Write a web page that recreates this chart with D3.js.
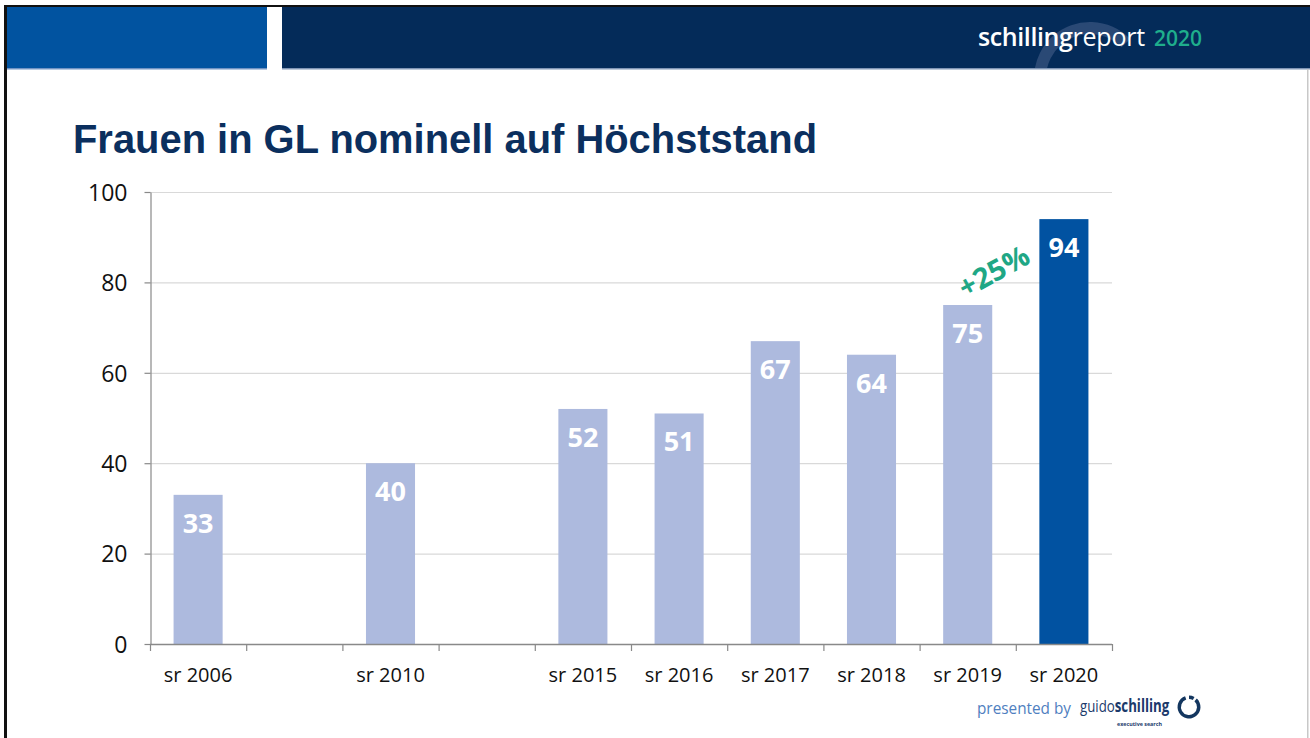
<!DOCTYPE html>
<html>
<head>
<meta charset="utf-8">
<script src="https://cdn.jsdelivr.net/npm/d3@7"></script>
<style>
  html, body { margin: 0; padding: 0; background: #ffffff; }
  svg { display: block; }
</style>
</head>
<body>
<svg id="chart" width="1310" height="738"></svg>
<script>
// ---- data ----
const categories = ["sr 2006", "", "sr 2010", "", "sr 2015", "sr 2016", "sr 2017", "sr 2018", "sr 2019", "sr 2020"];
const values = [33, null, 40, null, 52, 51, 67, 64, 75, 94];
const highlightCategory = "sr 2020";
const yTicks = [0, 20, 40, 60, 80, 100];
const titleText = "Frauen in GL nominell auf Höchststand";
const annotationText = "+25%";

const svg = d3.select("#chart");
const W = 1310, H = 738;

// ---- page frame & header ----
svg.append("rect").attr("x", 0).attr("y", 0).attr("width", W).attr("height", H).attr("fill", "#ffffff");
svg.append("rect").attr("x", 7).attr("y", 7).attr("width", 260).attr("height", 61).attr("fill", "#0153a0");
svg.append("rect").attr("x", 282).attr("y", 7).attr("width", W - 282).attr("height", 61).attr("fill", "#042b59");
svg.append("rect").attr("x", 7).attr("y", 68).attr("width", 260).attr("height", 1.5).attr("fill", "#6f93c4");
svg.append("rect").attr("x", 282).attr("y", 68).attr("width", W - 282).attr("height", 1.5).attr("fill", "#7f95b5");
// watermark arc
const defs = svg.append("defs");
defs.append("clipPath").attr("id", "hdrclip").append("rect").attr("x", 282).attr("y", 7).attr("width", W - 282).attr("height", 61);
svg.append("g").attr("clip-path", "url(#hdrclip)")
  .append("path")
  .attr("transform", "translate(1090,78)")
  .attr("d", d3.arc()({innerRadius: 44, outerRadius: 56, startAngle: -2.25, endAngle: 0.8}))
  .attr("fill", "#2a4975");
// black border lines
svg.append("rect").attr("x", 4).attr("y", 5).attr("width", W - 4).attr("height", 2).attr("fill", "#111");
svg.append("rect").attr("x", 4).attr("y", 5).attr("width", 3).attr("height", H - 5).attr("fill", "#111");
svg.append("rect").attr("x", 1307).attr("y", 69).attr("width", 1.5).attr("height", H - 69).attr("fill", "#c8c8c8");

// header brand text
const brand = svg.append("text").attr("x", 978).attr("y", 46)
  .attr("font-family", "'Open Sans', sans-serif").attr("fill", "#ffffff");
brand.append("tspan").attr("font-size", 25).attr("font-weight", 600).attr("letter-spacing", -0.4).text("schilling");
brand.append("tspan").attr("font-size", 25).attr("font-weight", 400).attr("letter-spacing", -0.2).text("report");
brand.append("tspan").attr("font-size", 21).attr("font-weight", 600).attr("fill", "#1fae8c").attr("dx", 9).text("2020");

// ---- title ----
svg.append("text").attr("x", 73).attr("y", 153)
  .attr("font-family", "'Liberation Sans', Arial, sans-serif").attr("font-weight", 700)
  .attr("font-size", 40).attr("fill", "#0b2f5e")
  .attr("textLength", 744).attr("lengthAdjust", "spacingAndGlyphs")
  .text(titleText);

// ---- scales ----
const x0 = 150, x1 = 1112, yTop = 192, yBot = 644;
const x = d3.scaleBand().domain(d3.range(categories.length)).range([x0, x1])
  .paddingInner(0.49).paddingOuter(0.245);
const y = d3.scaleLinear().domain([0, 100]).range([yBot, yTop]);

// gridlines
svg.append("g").selectAll("line").data(yTicks.filter(d => d > 0)).join("line")
  .attr("x1", x0).attr("x2", x1).attr("y1", d => y(d) + 0.5).attr("y2", d => y(d) + 0.5)
  .attr("stroke", "#d9d9d9").attr("stroke-width", 1.2);

// bars
const data = categories.map((c, i) => ({i, c, v: values[i]})).filter(d => d.v != null);
svg.append("g").selectAll("rect").data(data).join("rect")
  .attr("x", d => x(d.i)).attr("width", x.bandwidth())
  .attr("y", d => y(d.v)).attr("height", d => y(0) - y(d.v))
  .attr("fill", d => d.c === highlightCategory ? "#0152a1" : "#adbade");

// value labels
svg.append("g").selectAll("text").data(data).join("text")
  .attr("x", d => x(d.i) + x.bandwidth() / 2).attr("y", d => y(d.v) + 38)
  .attr("text-anchor", "middle").attr("font-family", "'Open Sans', sans-serif")
  .attr("font-weight", 700).attr("font-size", 27).attr("fill", "#ffffff")
  .text(d => d.v);

// y axis
const yAxis = svg.append("g").attr("transform", `translate(${x0 + 0.5},0)`)
  .call(d3.axisLeft(y).tickValues(yTicks).tickSize(6).tickPadding(17).tickSizeOuter(0));
yAxis.select(".domain").attr("stroke", "#898989").attr("stroke-width", 1.2);
yAxis.selectAll(".tick line").attr("stroke", "#898989").attr("stroke-width", 1.2);
yAxis.selectAll(".tick text").attr("font-family", "'Open Sans', sans-serif")
  .attr("font-size", 23).attr("fill", "#111").attr("dy", "0.36em");

// x axis line
const step = x.step();
const boundaries = d3.range(categories.length + 1).map(i => x0 + i * step);
const xg = svg.append("g");
xg.append("line").attr("x1", x0).attr("x2", x1).attr("y1", yBot + 0.5).attr("y2", yBot + 0.5)
  .attr("stroke", "#898989").attr("stroke-width", 1.4);
xg.selectAll("line.tick").data(boundaries).join("line").attr("class", "tick")
  .attr("x1", d => d + 0.5).attr("x2", d => d + 0.5).attr("y1", yBot).attr("y2", yBot + 7)
  .attr("stroke", "#898989").attr("stroke-width", 1.2);
xg.selectAll("text").data(categories.map((c, i) => ({c, i})).filter(d => d.c)).join("text")
  .attr("x", d => x(d.i) + x.bandwidth() / 2).attr("y", 682)
  .attr("text-anchor", "middle").attr("font-family", "'Open Sans', sans-serif")
  .attr("font-size", 20).attr("fill", "#111").text(d => d.c);

// annotation
const iPrev = categories.indexOf("sr 2019"), iHi = categories.indexOf(highlightCategory);
const ax = (x(iPrev) + x.bandwidth() / 2 + x(iHi) + x.bandwidth() / 2) / 2 - 17;
svg.append("text").attr("transform", `translate(${ax},${y(80) - 2}) rotate(-29)`)
  .attr("text-anchor", "middle").attr("font-family", "'Open Sans', sans-serif")
  .attr("font-weight", 700).attr("font-size", 29).attr("fill", "#1fa785")
  .text(annotationText);

// ---- footer ----
svg.append("text").attr("x", 977).attr("y", 714)
  .attr("font-family", "'Open Sans', sans-serif").attr("font-size", 17).attr("fill", "#4f80c0")
  .attr("textLength", 94).attr("lengthAdjust", "spacingAndGlyphs").text("presented by");
const gs = svg.append("text").attr("transform", "translate(1080,712) scale(0.78,1)")
  .attr("font-family", "'Open Sans', sans-serif").attr("font-size", 17).attr("fill", "#1b3a6b");
gs.append("tspan").text("guido");
gs.append("tspan").attr("font-weight", 700).text("schilling");
svg.append("text").attr("x", 1117).attr("y", 726)
  .attr("font-family", "'Open Sans', sans-serif").attr("font-weight", 700).attr("font-size", 5).attr("fill", "#1b3a6b")
  .attr("textLength", 45).attr("lengthAdjust", "spacingAndGlyphs").text("executive search");
const logo = svg.append("g").attr("transform", "translate(1189,707)");
logo.append("path").attr("d", d3.arc()({innerRadius: 8, outerRadius: 11.5, startAngle: 0.75, endAngle: 2 * Math.PI - 0.35}))
  .attr("fill", "#13365f");
logo.append("path").attr("d", d3.arc()({innerRadius: 8, outerRadius: 11.5, startAngle: 0.0, endAngle: 0.5}))
  .attr("fill", "#13365f");
</script>
</body>
</html>
